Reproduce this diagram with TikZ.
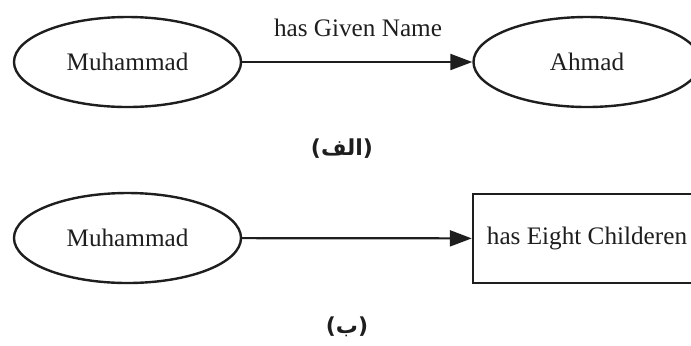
\documentclass[tikz,border=0pt]{standalone}
\usepackage{fontspec}
\setmainfont{Liberation Serif}
\newfontfamily\arabicfont[Script=Arabic]{DejaVu Sans}
\newfontfamily\parenfont{DejaVu Sans}
\TeXXeTstate=1
\usetikzlibrary{shapes.geometric,arrows.meta}
\definecolor{ink}{HTML}{1E1E1E}
\newcommand{\arcap}[1]{{\parenfont\bfseries(}{\arabicfont\bfseries\beginR #1\endR}{\parenfont\bfseries)}}
\begin{document}
\begin{tikzpicture}[x=0.5pt,y=-0.5pt,
  ent/.style={ellipse,draw=ink,line width=1.2pt,minimum width=113.5pt,minimum height=45pt,inner sep=0pt,text=ink,font=\fontsize{12.6}{15}\selectfont},
  lit/.style={rectangle,draw=ink,line width=1.2pt,minimum width=114pt,minimum height=44.5pt,inner sep=0pt,text=ink,font=\fontsize{12.6}{15}\selectfont},
  rel/.style={draw=ink,line width=1.1pt,-{Triangle[length=11pt,width=8pt]}},
  lbl/.style={text=ink,inner sep=0pt,font=\fontsize{12.6}{15}\selectfont},
  caplbl/.style={text=ink,inner sep=0pt,font=\fontsize{11}{13}\selectfont}
]
\useasboundingbox (0,0) rectangle (691,345);
\clip (0,0) rectangle (691,345);
% part (a)
\node[ent] (m1) at (127.5,62) {Muhammad};
\node[ent] (ah) at (587,62) {Ahmad};
\draw[rel] (m1) -- (ah);
\node[lbl] (gn) at (358,28) {has Given Name};
\node[caplbl] (ca) at (342,149) {\arcap{الف}};
% part (b)
\node[ent] (m2) at (127.5,238) {Muhammad};
\node[lit] (ch) at (587,238.5) {has Eight Childeren};
\draw[rel] (m2) -- (ch);
\node[caplbl] (cb) at (347,327) {\arcap{ب}};
\end{tikzpicture}
\end{document}
